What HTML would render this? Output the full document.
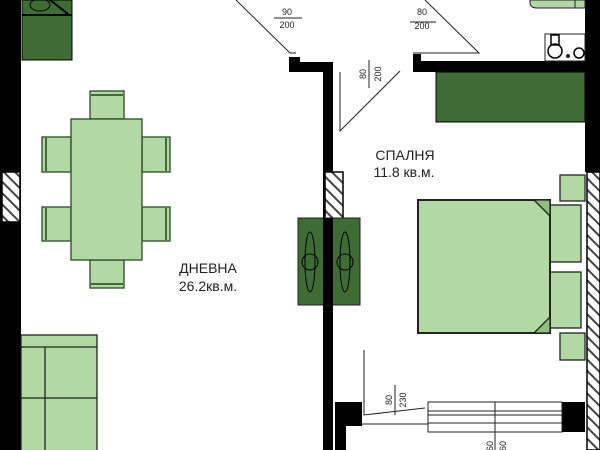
<!DOCTYPE html>
<html><head><meta charset="utf-8"><style>
html,body{margin:0;padding:0;background:#fff;width:600px;height:450px;overflow:hidden}
svg{display:block}
text{font-family:"Liberation Sans","DejaVu Sans",sans-serif;fill:#222}
</style></head><body>
<svg width="600" height="450" viewBox="0 0 600 450" xmlns="http://www.w3.org/2000/svg">
<defs>
<pattern id="h" width="8" height="8" patternUnits="userSpaceOnUse" patternTransform="rotate(-45)">
<rect width="8" height="8" fill="#fff"/><rect width="2" height="8" fill="#444"/></pattern>
</defs>
<!-- left wall -->
<rect x="0" y="0" width="21" height="450" fill="#000"/>
<rect x="2" y="172" width="18" height="50" fill="url(#h)" stroke="#000" stroke-width="1.5"/>
<!-- kitchen top-left -->
<rect x="22" y="0" width="50" height="60" fill="#3f6b35" stroke="#000"/>
<line x1="22" y1="15" x2="72" y2="15" stroke="#000" stroke-width="2"/>
<ellipse cx="40" cy="5" rx="10" ry="6" fill="none" stroke="#000"/>
<line x1="50" y1="0" x2="68" y2="14" stroke="#000" stroke-width="2"/>
<!-- dining -->
<g fill="#b2d8a4" stroke="#2a4a22" stroke-width="1.3">
<rect x="90" y="91" width="34" height="28"/><rect x="90" y="260" width="34" height="28"/>
<rect x="42" y="137" width="29" height="35"/><rect x="42" y="207" width="29" height="34"/>
<rect x="142" y="137" width="28" height="35"/><rect x="142" y="207" width="28" height="34"/>
<rect x="71" y="119" width="71" height="141"/>
</g>
<g stroke="#3f6b35" stroke-width="2">
<line x1="91" y1="95" x2="123" y2="95"/><line x1="91" y1="284" x2="123" y2="284"/>
<line x1="46" y1="138" x2="46" y2="171"/><line x1="46" y1="208" x2="46" y2="240"/>
<line x1="166" y1="138" x2="166" y2="171"/><line x1="166" y1="208" x2="166" y2="240"/>
</g>
<!-- sofa -->
<g fill="#b2d8a4" stroke="#222" stroke-width="1.3">
<rect x="21" y="335" width="76" height="120"/>
<line x1="21" y1="347" x2="97" y2="347"/><line x1="45" y1="347" x2="45" y2="450"/>
<line x1="21" y1="398" x2="97" y2="398"/>
</g>
<text x="208" y="273" font-size="14" text-anchor="middle">ДНЕВНА</text>
<text x="208" y="291" font-size="14" text-anchor="middle">26.2кв.м.</text>
<!-- central wall -->
<rect x="289" y="57" width="11" height="15" fill="#000"/>
<rect x="300" y="62" width="33" height="10" fill="#000"/>
<rect x="323" y="62" width="10" height="388" fill="#000"/>
<rect x="325" y="172" width="18" height="50" fill="url(#h)" stroke="#000" stroke-width="1.5"/>
<rect x="413" y="54" width="8" height="18" fill="#000"/>
<rect x="413" y="61" width="187" height="11" fill="#000"/>
<rect x="585" y="0" width="15" height="172" fill="#000"/>
<rect x="587" y="172" width="13" height="278" fill="url(#h)" stroke="#000" stroke-width="1.5"/>
<!-- wardrobe -->
<rect x="436" y="72" width="149" height="50" fill="#3f6b35" stroke="#000"/>
<!-- kitchen top-right -->
<path d="M530 0 H585 V8 H537 Q530 8 530 2 Z" fill="#b2d8a4" stroke="#222"/>
<line x1="575" y1="0" x2="575" y2="8" stroke="#222"/>
<rect x="545" y="34" width="40" height="27" fill="#fff" stroke="#222"/>
<circle cx="555" cy="51" r="7" fill="none" stroke="#000" stroke-width="1.5"/>
<circle cx="579" cy="53" r="5" fill="none" stroke="#000" stroke-width="1.5"/>
<circle cx="568" cy="56" r="2" fill="#222"/>
<rect x="551" y="35" width="8" height="10" fill="none" stroke="#000" stroke-width="1.5"/>
<!-- doors -->
<g stroke="#222" stroke-width="1" fill="none">
<polyline points="236,0 290,53 296,53"/>
<polyline points="425,0 479,53 413,53"/>
<polyline points="340,72 340,131 400,71"/>
<polyline points="364,350 364,415 425,408"/>
<line x1="274" y1="18" x2="302" y2="18"/><line x1="410" y1="22" x2="436" y2="22"/>
<line x1="369" y1="60" x2="369" y2="88"/><line x1="395" y1="385" x2="395" y2="415"/>
</g>
<text x="287" y="15" font-size="9" text-anchor="middle">90</text>
<text x="287" y="28" font-size="9" text-anchor="middle">200</text>
<text x="422" y="15" font-size="9" text-anchor="middle">80</text>
<text x="422" y="29" font-size="9" text-anchor="middle">200</text>
<text transform="translate(366,74) rotate(-90)" font-size="9" text-anchor="middle">80</text>
<text transform="translate(381,74) rotate(-90)" font-size="9" text-anchor="middle">200</text>
<text transform="translate(392,400) rotate(-90)" font-size="9" text-anchor="middle">80</text>
<text transform="translate(406,400) rotate(-90)" font-size="9" text-anchor="middle">230</text>
<text x="405" y="160" font-size="14" text-anchor="middle">СПАЛНЯ</text>
<text x="404" y="177" font-size="14" text-anchor="middle">11.8 кв.м.</text>
<!-- radiators -->
<rect x="298" y="218" width="62" height="87" fill="#3f6b35" stroke="#222"/>
<rect x="323" y="218" width="10" height="87" fill="#000"/>
<g stroke="#000" fill="none" stroke-width="1">
<ellipse cx="310" cy="262" rx="5" ry="30"/><circle cx="310" cy="262" r="8"/>
<ellipse cx="345" cy="262" rx="5" ry="30"/><circle cx="345" cy="262" r="8"/>
</g>
<!-- bed -->
<g fill="#b2d8a4" stroke="#222" stroke-width="1.3">
<rect x="560" y="175" width="25" height="26"/><rect x="560" y="333" width="25" height="27"/>
<rect x="550" y="205" width="31" height="57"/><rect x="550" y="272" width="31" height="56"/>
<rect x="418" y="200" width="132" height="133" stroke-width="2"/>
<polygon points="534,200 550,216 550,200" fill="#8fbf80"/>
<polygon points="534,333 550,317 550,333" fill="#8fbf80"/>
</g>
<!-- bottom window -->
<rect x="335" y="402" width="27" height="48" fill="#000"/>
<rect x="346" y="426" width="16" height="24" fill="#fff"/>
<rect x="562" y="402" width="23" height="30" fill="#000"/>
<g stroke="#222" fill="#fff" stroke-width="1">
<rect x="428" y="402" width="134" height="30"/>
<line x1="428" y1="411" x2="562" y2="411"/><line x1="428" y1="415" x2="562" y2="415"/>
<line x1="428" y1="423" x2="562" y2="423"/>
<line x1="495" y1="402" x2="495" y2="450"/>
<line x1="362" y1="424" x2="428" y2="424"/>
</g>
<text transform="translate(493,446) rotate(-90)" font-size="9" text-anchor="middle">60</text>
<text transform="translate(506,446) rotate(-90)" font-size="9" text-anchor="middle">60</text>
</svg>
</body></html>
